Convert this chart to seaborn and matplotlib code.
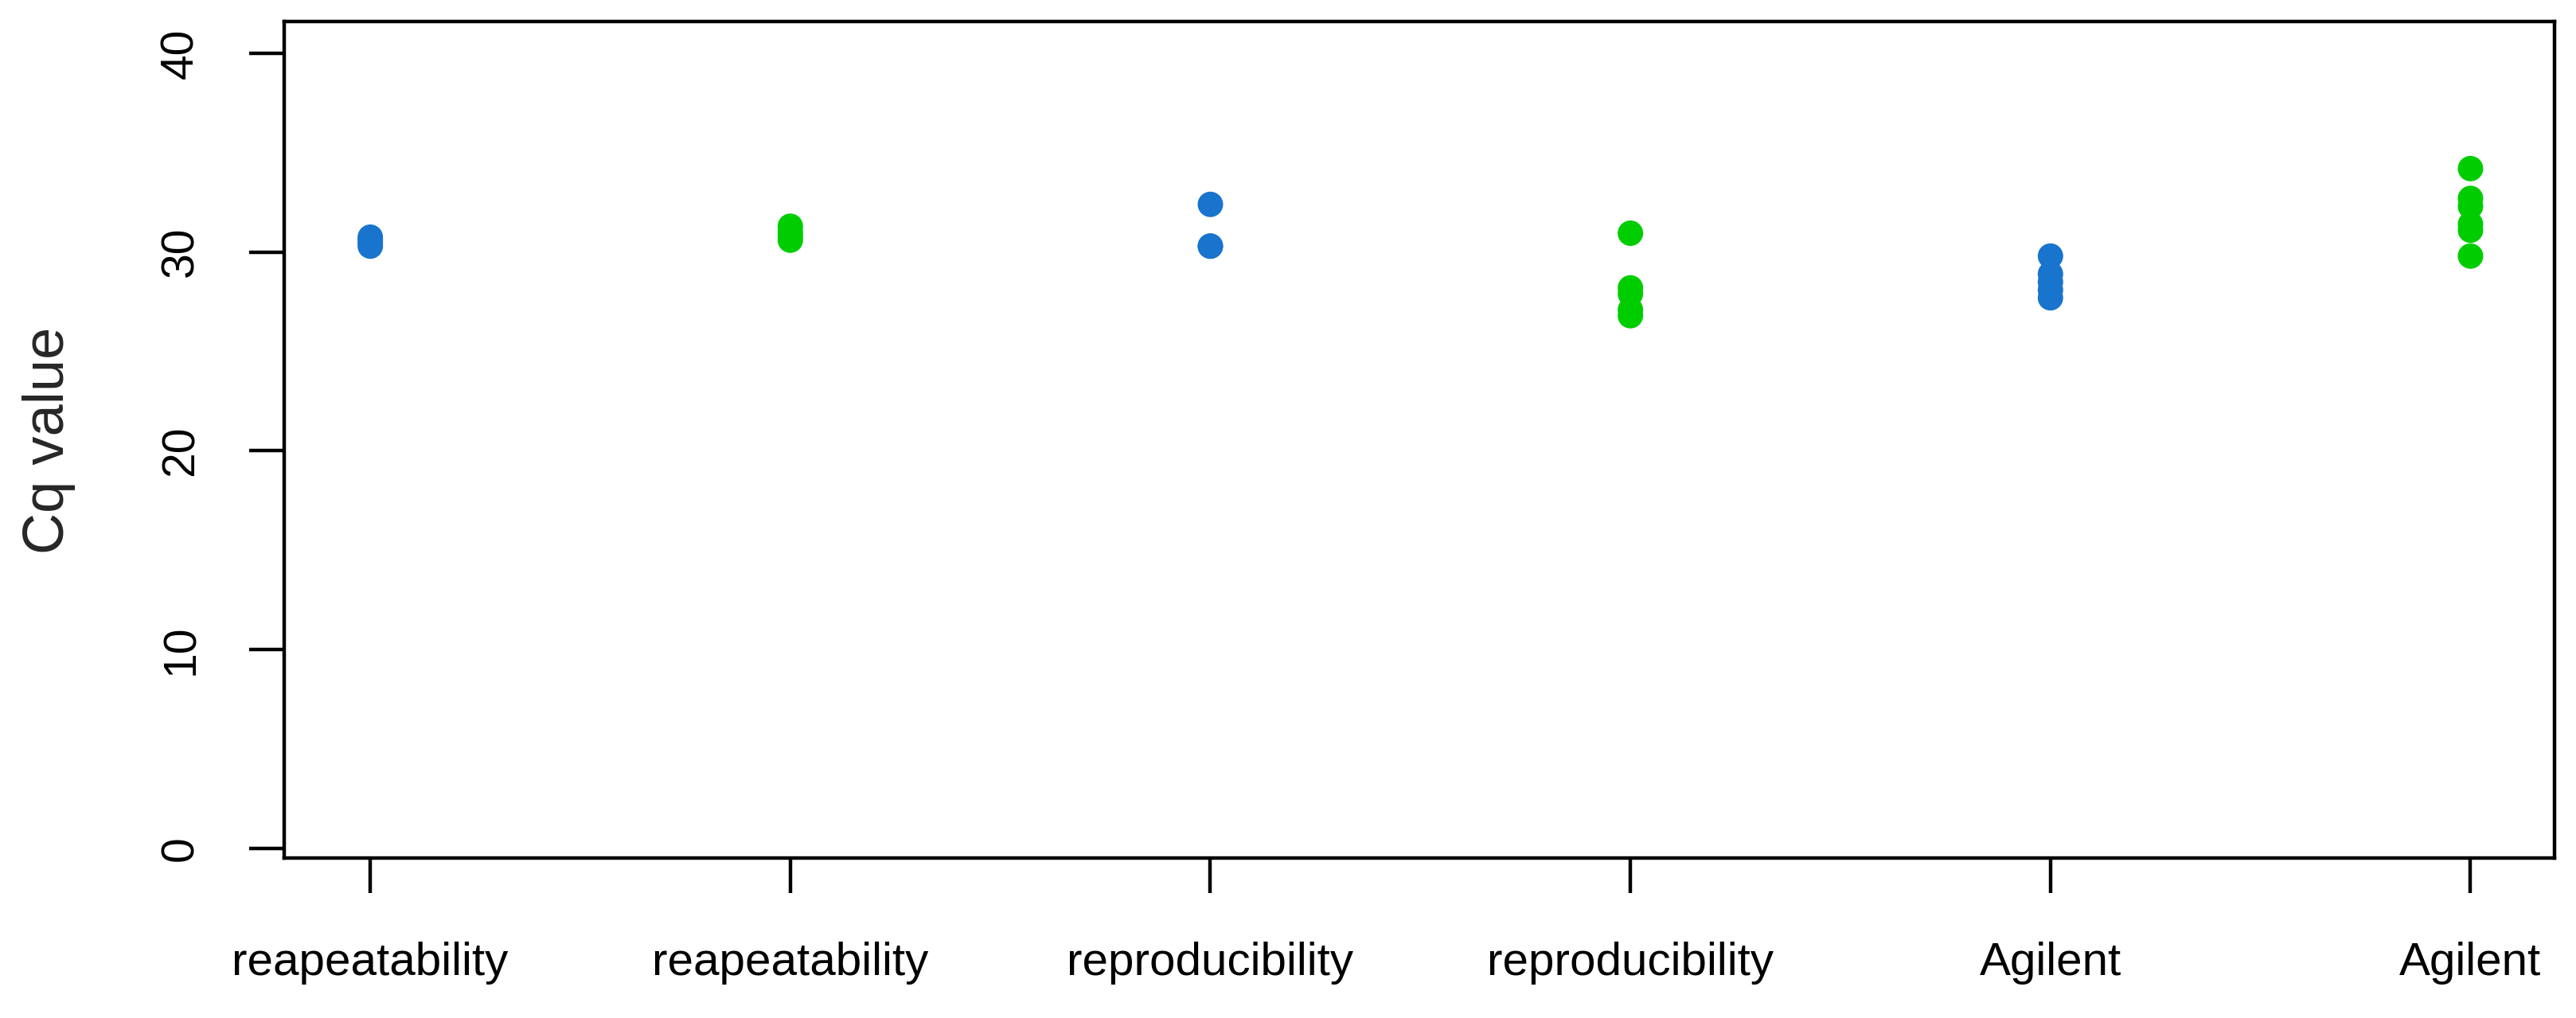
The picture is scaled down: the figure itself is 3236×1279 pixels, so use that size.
import pandas as pd
import matplotlib
matplotlib.use("Agg")
import matplotlib.pyplot as plt
import seaborn as sns

sns.set_theme(style="ticks")
plt.rcParams['font.family'] = ['Liberation Sans', 'DejaVu Sans']

# group slots along the x axis and their labels
tick_labels = ['reapeatability', 'reapeatability', 'reproducibility',
               'reproducibility', 'Agilent', 'Agilent']
group_colors = ['#1874CD', '#00CD00', '#1874CD', '#00CD00', '#1874CD', '#00CD00']

# Cq values per group
rep_blue = [30.3, 30.45, 30.6, 30.75]
rep_green = [30.6, 30.8, 31.0, 31.3]
repro_blue = [32.4, 30.3, 30.3]
repro_green = [30.95, 28.2, 27.9, 27.1, 26.8]
agilent_blue = [29.8, 28.9, 28.5, 28.1, 27.7]
agilent_green = [34.2, 32.7, 32.3, 31.4, 31.1, 29.8]

groups = [rep_blue, rep_green, repro_blue, repro_green, agilent_blue, agilent_green]

rows = []
for i, vals in enumerate(groups):
    for v in vals:
        rows.append({'group': str(i), 'Cq': v})
df = pd.DataFrame(rows)
order = [str(i) for i in range(len(groups))]

fig = plt.figure(figsize=(32.36, 12.79), dpi=100)
ax = fig.add_axes([357/3236, 1 - 1078/1279, (3209-357)/3236, (1078-27)/1279])

sns.stripplot(data=df, x='group', y='Cq', order=order, hue='group',
              hue_order=order, palette=dict(zip(order, group_colors)),
              jitter=False, size=23, linewidth=0, legend=False, ax=ax, zorder=3)

ax.set_xlim(-0.205, 5.2)
ax.set_ylim(-0.48, 41.6)
ax.set_yticks([0, 10, 20, 30, 40])
ax.set_xticks(range(len(tick_labels)))
ax.set_xticklabels(tick_labels)
ax.set_xlabel('')
ax.set_ylabel('')

for s in ax.spines.values():
    s.set_visible(True)
    s.set_linewidth(3.2)
    s.set_color('black')

ax.tick_params(axis='both', length=31.7, width=3.2, color='black',
               direction='out', labelcolor='black')
ax.tick_params(axis='x', labelsize=42, pad=44)
ax.tick_params(axis='y', labelsize=41, pad=42, labelrotation=90)
for lab in ax.get_yticklabels():
    lab.set_verticalalignment('center')

fig.text(62/3236, 1 - 553/1279, 'Cq value', rotation=90, fontsize=52,
         ha='center', va='center')

fig.savefig('out.png', dpi=100, facecolor='white')
